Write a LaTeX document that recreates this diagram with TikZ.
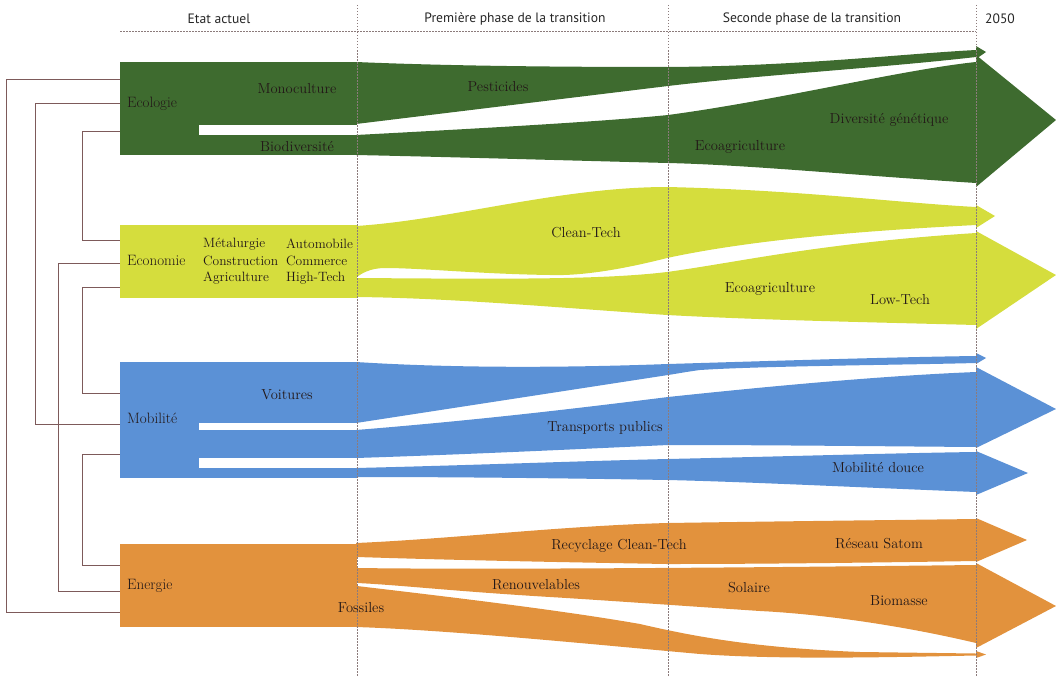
\documentclass[tikz,border=0pt]{standalone}
\usepackage{fontspec}
\newfontfamily\headfont{PT Sans}
\usetikzlibrary{calc}

\definecolor{ecogreen}{HTML}{3E6B2F}
\definecolor{econyellow}{HTML}{D5DD3D}
\definecolor{mobblue}{HTML}{5B91D6}
\definecolor{enerorange}{HTML}{E2923D}
\definecolor{linkbrown}{HTML}{7D5A5A}
\definecolor{phasegray}{HTML}{8C7B7B}
\definecolor{labelink}{HTML}{231818}

\begin{document}
\begin{tikzpicture}
	[
		x=1pt, y=-1pt,
		bracket/.style = {draw=linkbrown, line width=0.8pt},
		phase/.style = {draw=phasegray, line width=0.6pt, dash pattern=on 1.5pt off 1.5pt},
		header/.style = {font=\headfont\fontsize{13.6}{15}\selectfont, text=black!85},
		lbl/.style = {font=\fontsize{14.5}{16}\selectfont, text=labelink, inner sep=0pt},
		theme/.style = {lbl, font=\fontsize{15}{16}\selectfont, anchor=west},
		sector/.style = {lbl, font=\fontsize{13.5}{15}\selectfont, anchor=west},
		slit/.style = {fill=white}
	]
	
	\useasboundingbox (0,0) rectangle (1056,677);
	
	\coordinate (eco1) at (120,79);
	\coordinate (eco2) at (120,103);
	\coordinate (eco3) at (120,131);
	\coordinate (econ1) at (120,240);
	\coordinate (econ2) at (120,263);
	\coordinate (econ3) at (120,287);
	\coordinate (mob1) at (120,393);
	\coordinate (mob2) at (120,424);
	\coordinate (mob3) at (120,454);
	\coordinate (ener1) at (120,565);
	\coordinate (ener2) at (120,591);
	\coordinate (ener3) at (120,612);
	
	\draw[bracket] (eco1) -- ++(-114,0) |- (ener3);
	\draw[bracket] (eco2) -- ++(-85,0) |- (mob2);
	\draw[bracket] (eco3) -- ++(-38,0) |- (econ1);
	\draw[bracket] (econ2) -- ++(-62,0) |- (ener2);
	\draw[bracket] (econ3) -- ++(-38,0) |- (mob1);
	\draw[bracket] (mob3) -- ++(-38,0) |- (ener1);
	
	\fill[ecogreen] (120,62) rectangle (357,155);
	\fill[slit] (199,125) rectangle (358,135);
	\fill[ecogreen] (356,62) .. controls (450,66) and (560,67) .. (668,67)
		.. controls (800,66) and (900,54) .. (976,50) -- (976,46) -- (986,52) -- (976,59) -- (976,57)
		.. controls (880,68) and (760,75) .. (668,86) -- (356,124) -- cycle;
	\fill[ecogreen] (356,135) .. controls (450,130) and (600,122) .. (668,115)
		.. controls (780,100) and (900,70) .. (976,62) -- (976,55) -- (1056,120) -- (976,187) -- (976,183)
		.. controls (850,175) and (750,165) .. (668,163)
		.. controls (550,160) and (450,157) .. (356,155) -- cycle;
	
	\fill[econyellow] (120,225) rectangle (357,298);
	\fill[econyellow] (356,226) .. controls (450,220) and (560,187) .. (667,187)
		.. controls (800,190) and (900,203) .. (976,207) -- (976,205) -- (995,216) -- (976,228) -- (976,225)
		.. controls (880,230) and (760,238) .. (667,258)
		.. controls (620,270) and (580,276) .. (550,275)
		.. controls (480,274) and (420,268) .. (385,268)
		.. controls (370,268) and (360,274) .. (356,278) -- cycle;
	\fill[econyellow] (356,278) .. controls (500,279) and (600,280) .. (667,272)
		.. controls (740,262) and (820,243) .. (976,233) -- (976,231) -- (1056,275) -- (976,329) -- (976,325)
		.. controls (860,322) and (760,320) .. (667,315)
		.. controls (550,307) and (450,298) .. (356,297) -- cycle;
	
	\fill[mobblue] (120,362) rectangle (357,478);
	\fill[slit] (199,423) rectangle (358,430);
	\fill[slit] (199,458) rectangle (358,468);
	\fill[mobblue] (356,362) .. controls (450,368) and (560,368) .. (668,364)
		.. controls (800,360) and (900,357) .. (976,356) -- (976,353) -- (986,358) -- (976,364) -- (976,363)
		.. controls (900,365) and (760,366) .. (700,370)
		.. controls (685,372) and (675,374) .. (668,375) -- (356,423) -- cycle;
	\fill[mobblue] (356,430) .. controls (480,420) and (580,408) .. (668,397)
		.. controls (800,383) and (900,375) .. (976,372) -- (976,367) -- (1056,409) -- (976,448) -- (976,447)
		.. controls (850,446) and (760,445) .. (668,445)
		.. controls (560,450) and (450,455) .. (356,458) -- cycle;
	\fill[mobblue] (356,468) .. controls (480,465) and (580,461) .. (668,459)
		.. controls (800,456) and (900,453) .. (976,452) -- (976,451) -- (1028,473) -- (976,495) -- (976,492)
		.. controls (850,487) and (750,482) .. (668,480)
		.. controls (550,478) and (450,477) .. (356,477) -- cycle;
	
	\fill[enerorange] (120,544) rectangle (357,627);
	\fill[enerorange] (356,543) .. controls (450,539) and (560,526) .. (667,523)
		.. controls (800,521) and (900,520) .. (976,519) -- (976,518) -- (1027,540) -- (976,562) -- (976,561)
		.. controls (850,563) and (750,564) .. (667,564)
		.. controls (550,562) and (450,560) .. (357,557) -- cycle;
	\fill[enerorange] (357,568) .. controls (500,570) and (800,567) .. (976,565) -- (976,563) -- (1056,606) -- (976,648) -- (976,643)
		.. controls (900,625) and (820,614) .. (760,611)
		.. controls (700,607) and (600,600) .. (550,597)
		.. controls (450,591) and (400,585) .. (357,583) -- cycle;
	\fill[enerorange] (357,586) .. controls (450,597) and (560,610) .. (640,624)
		.. controls (700,638) and (760,648) .. (860,652) -- (976,653.5) -- (976,651) -- (986,654.5) -- (976,658) -- (976,655.5)
		.. controls (900,657) and (780,660) .. (700,654)
		.. controls (600,645) and (450,630) .. (356,627) -- cycle;
	
	\draw[phase] (120,31) -- (976,31);
	\draw[phase] (357,5) -- (357,677);
	\draw[phase] (668,5) -- (668,677);
	\draw[phase] (976,5) -- (976,677);
	
	\node[header] (now) at (219,19) {Etat actuel};
	\node[header] (phase1) at (515,19) {Première phase de la transition};
	\node[header] (phase2) at (812,19) {Seconde phase de la transition};
	\node[header] (goal) at (1000,19) {2050};
	
	\node[theme] (ecologie) at (127,104) {Ecologie};
	\node[lbl] (monoculture) at (297,89) {Monoculture};
	\node[lbl] (biodiv) at (297,147) {Biodiversité};
	\node[lbl] (pesticides) at (498,87) {Pesticides};
	\node[lbl] (ecoagri1) at (740,147) {Ecoagriculture};
	\node[lbl] (diversite) at (889,120) {Diversité génétique};
	
	\node[theme] (economie) at (127,260) {Economie};
	\node[sector] (metal) at (203,244) {Métalurgie};
	\node[sector] (construction) at (203,261) {Construction};
	\node[sector] (agriculture) at (203,278) {Agriculture};
	\node[sector] (automobile) at (286,244) {Automobile};
	\node[sector] (commerce) at (286,261) {Commerce};
	\node[sector] (hightech) at (286,278) {High-Tech};
	\node[lbl] (cleantech) at (586,233) {Clean-Tech};
	\node[lbl] (ecoagri2) at (770,289) {Ecoagriculture};
	\node[lbl] (lowtech) at (900,300) {Low-Tech};
	
	\node[theme] (mobilite) at (127,418) {Mobilité};
	\node[lbl] (voitures) at (287,395) {Voitures};
	\node[lbl] (transports) at (605,428) {Transports publics};
	\node[lbl] (douce) at (878,468) {Mobilité douce};
	
	\node[theme] (energie) at (127,586) {Energie};
	\node[lbl] (fossiles) at (361,608) {Fossiles};
	\node[lbl] (recyclage) at (619,546) {Recyclage Clean-Tech};
	\node[lbl] (satom) at (879,544) {Réseau Satom};
	\node[lbl] (renouv) at (536,585) {Renouvelables};
	\node[lbl] (solaire) at (749,588) {Solaire};
	\node[lbl] (biomasse) at (899,601) {Biomasse};
	
\end{tikzpicture}
\end{document}
